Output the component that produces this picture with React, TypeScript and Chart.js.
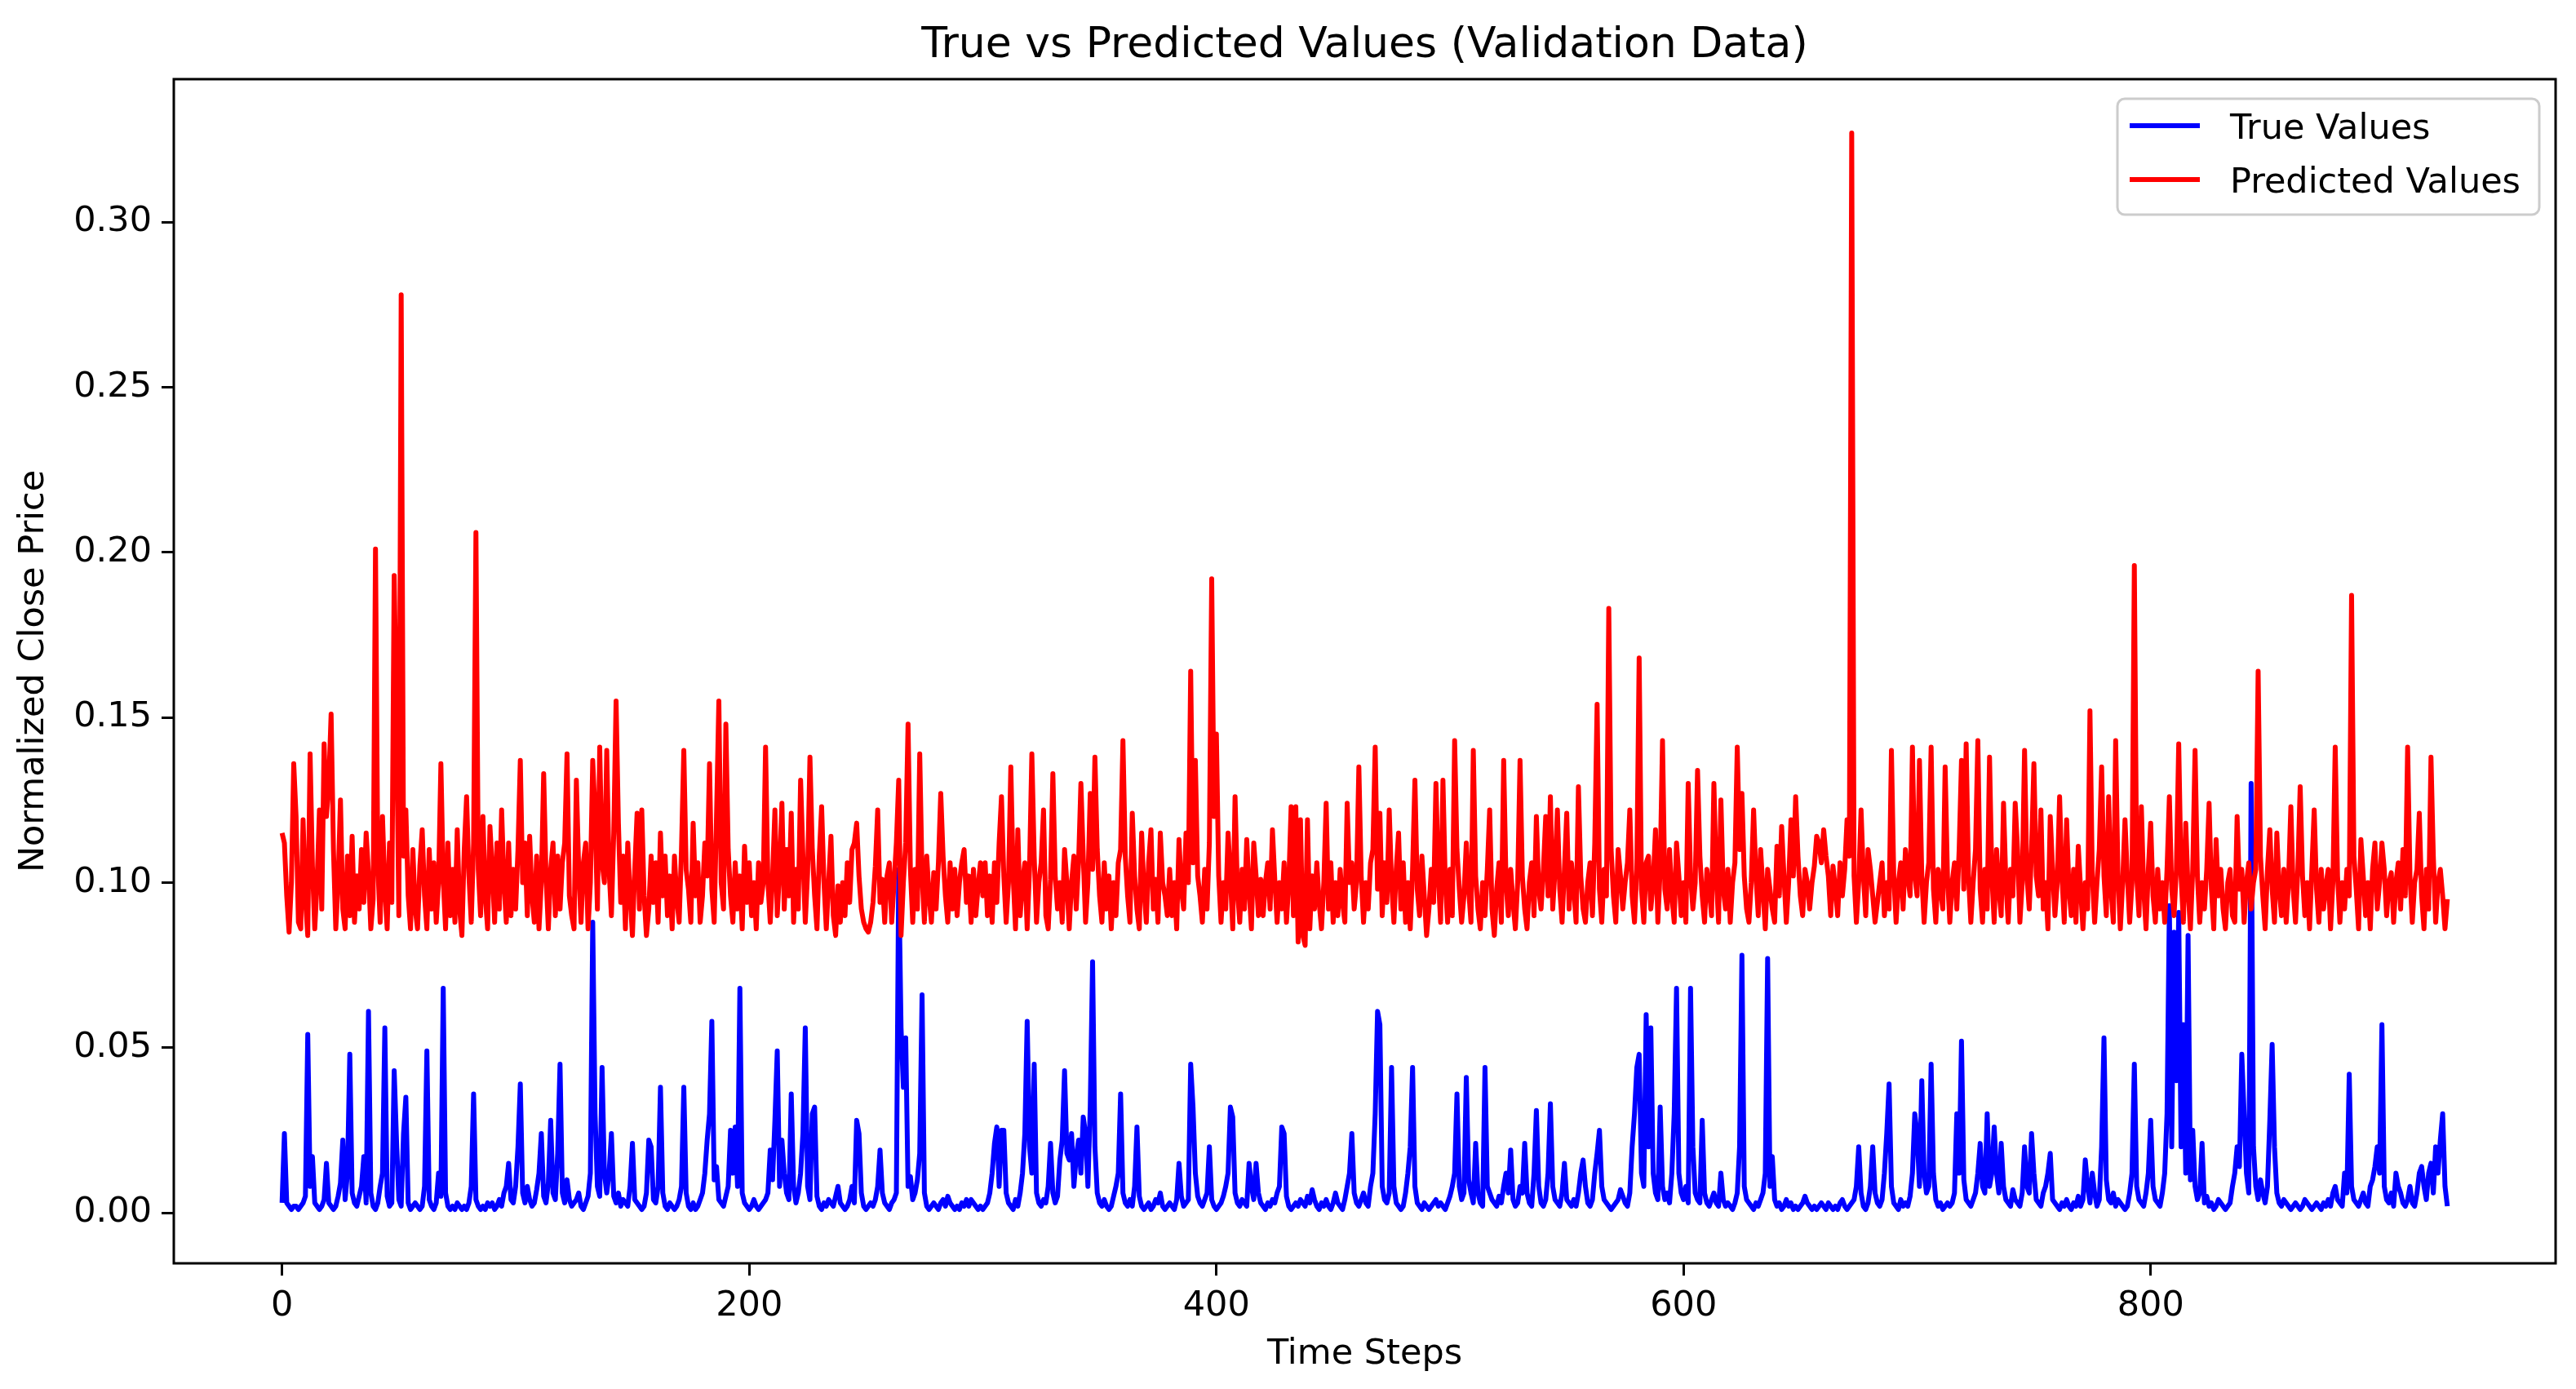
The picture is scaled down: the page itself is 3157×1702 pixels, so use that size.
import { useEffect, useRef } from "react";
import { Chart, registerables } from "chart.js";

Chart.register(...registerables);

const W = 3157;
const H = 1702;
const FONT = "DejaVu Sans";

const chartTitle = "True vs Predicted Values (Validation Data)";
const xAxisTitle = "Time Steps";
const yAxisTitle = "Normalized Close Price";
const seriesNames = ["True Values", "Predicted Values"];
const xTickValues = [0, 200, 400, 600, 800];
const yTickValues = [0, 0.05, 0.1, 0.15, 0.2, 0.25, 0.3];

// values in thousandths of the normalized close price, one entry per time step
const trueValues = [
  3,24,3,2,1,2,2,1,2,3,5,54,8,17,3,2,1,2,4,15,
  3,2,1,2,5,9,22,4,12,48,6,3,2,5,8,17,3,61,6,2,
  1,3,8,12,56,5,2,3,43,22,4,2,24,35,3,1,2,3,2,1,
  2,8,49,4,2,1,3,12,5,68,6,2,1,2,1,3,2,1,2,1,
  3,8,36,4,2,1,2,1,3,2,3,1,2,4,2,6,8,15,4,3,
  8,20,39,6,3,8,4,2,3,7,12,24,5,3,9,28,6,4,18,45,
  6,3,10,4,2,3,4,6,2,1,3,5,12,88,30,8,5,44,12,6,
  12,24,5,3,6,2,4,3,2,8,21,4,3,2,1,2,6,22,20,4,
  3,8,38,6,2,1,3,2,1,2,4,8,38,6,2,1,3,1,2,4,
  6,12,22,30,58,10,14,4,3,2,5,8,25,12,26,8,68,6,3,2,
  1,2,4,2,1,2,3,4,6,19,10,28,49,8,22,12,6,4,36,8,
  3,6,12,24,56,8,4,30,32,5,2,1,3,2,4,3,2,5,8,3,
  2,1,2,4,8,3,28,24,6,2,1,2,3,2,4,8,19,6,3,2,
  1,3,4,6,104,56,38,53,8,11,4,6,10,18,66,6,2,1,2,3,
  2,1,3,4,2,5,3,2,1,2,1,3,2,4,2,4,3,2,1,2,
  1,2,3,6,12,21,26,8,25,25,6,3,2,1,4,2,6,12,24,58,
  20,12,45,6,3,2,4,3,8,21,6,3,5,16,22,43,18,16,24,8,
  17,22,12,29,24,8,32,76,20,6,3,2,4,2,1,2,5,8,12,36,
  6,3,2,4,2,8,26,5,2,1,2,3,1,2,4,3,6,2,1,2,
  3,2,1,4,15,5,2,3,4,45,32,12,5,3,2,4,6,20,4,2,
  1,2,3,5,8,12,32,29,6,3,2,4,3,2,15,8,4,15,6,3,
  2,1,3,2,4,3,6,8,26,24,5,2,1,2,3,2,4,3,2,5,
  3,7,4,2,1,3,2,4,2,1,3,6,3,2,1,4,8,12,24,6,
  3,2,4,6,3,2,8,12,30,61,57,8,4,3,6,44,8,3,2,1,
  2,6,12,20,44,8,3,2,1,3,2,1,2,3,4,2,3,2,1,3,
  5,8,12,36,8,4,6,41,10,6,3,21,6,3,2,44,8,6,4,3,
  2,5,3,8,12,6,19,4,2,3,8,6,21,6,3,2,12,31,8,3,
  2,4,12,33,8,4,3,2,6,15,4,3,2,4,2,6,12,16,8,3,
  2,4,12,18,25,8,4,3,2,1,2,3,4,7,5,3,2,6,20,30,
  44,48,12,8,60,20,56,12,6,4,32,8,4,6,3,12,30,68,12,6,
  4,8,3,68,20,6,4,3,28,6,3,2,4,6,3,2,12,4,2,3,
  2,1,3,6,20,78,8,4,3,2,1,3,2,4,6,12,77,8,17,4,
  2,3,1,2,4,2,3,1,2,1,2,3,5,3,2,1,2,1,2,3,
  2,1,3,2,1,2,1,3,4,2,1,2,3,4,8,20,6,2,1,3,
  8,20,6,3,2,4,12,24,39,8,3,2,1,4,2,3,2,5,12,30,
  24,8,40,12,6,8,45,12,4,2,3,1,2,3,2,3,6,30,12,52,
  10,4,3,2,4,6,12,21,8,6,30,8,12,26,12,6,21,8,4,3,
  2,7,4,3,2,6,20,8,6,24,12,4,3,2,6,8,12,18,4,3,
  2,1,3,2,4,2,1,3,2,5,2,4,16,8,3,12,6,2,4,20,
  53,10,4,3,6,2,4,3,2,1,2,6,12,45,8,4,3,2,6,12,
  28,8,4,3,2,6,12,30,93,20,85,40,91,20,57,12,84,10,25,8,
  4,6,21,3,5,2,3,1,2,4,3,2,1,2,3,8,12,20,14,48,
  30,12,6,130,20,8,4,10,6,3,8,28,51,20,6,3,2,4,3,2,
  1,2,3,2,1,2,4,3,2,1,2,3,2,1,3,2,4,2,6,8,
  4,3,2,12,6,42,8,4,3,2,4,6,3,2,8,10,14,20,12,57,
  8,4,3,6,2,12,8,6,3,2,4,8,3,2,6,12,14,8,4,12,
  15,6,20,12,22,30,8,2,
];

const predictedValues = [
  115,112,96,85,100,136,120,88,86,119,95,84,139,105,86,100,122,92,142,120,
  130,151,110,86,100,125,92,86,108,90,114,88,102,92,110,94,115,103,86,95,
  201,105,88,120,98,86,112,94,193,150,90,278,108,122,96,86,110,92,86,105,
  116,96,86,110,92,106,88,100,136,101,86,112,90,104,88,116,92,84,110,126,
  102,88,112,206,104,90,120,96,86,117,104,88,112,92,122,100,88,112,90,104,
  92,110,137,100,112,90,114,96,88,108,86,100,133,102,86,104,112,90,108,92,
  106,112,139,96,90,86,131,104,88,106,112,86,100,137,121,92,141,106,100,140,
  104,90,115,155,118,94,108,86,112,96,84,104,121,92,122,96,84,92,108,94,
  106,88,115,96,108,90,102,86,108,95,88,110,140,104,98,88,118,96,106,88,
  96,112,102,136,98,88,120,155,100,92,148,110,96,88,106,92,102,86,111,94,
  106,90,100,86,106,94,100,141,100,88,102,122,90,104,124,92,110,96,121,88,
  104,92,131,108,88,103,138,110,96,86,108,123,100,86,100,114,90,84,99,88,
  100,90,106,94,110,112,118,102,92,88,86,85,88,94,105,122,94,101,88,102,
  106,88,100,112,131,84,100,112,148,104,88,104,92,139,102,88,108,96,88,103,
  92,106,127,108,96,88,106,92,104,90,100,106,110,94,102,88,104,90,99,106,
  96,106,90,102,88,106,94,112,126,102,88,100,135,102,86,116,90,100,106,86,
  104,139,108,88,100,106,122,90,86,101,133,102,92,100,88,110,100,86,100,108,
  92,106,130,108,88,100,127,104,138,110,96,88,106,92,102,86,100,90,106,110,
  143,108,96,88,121,102,92,86,115,98,88,106,116,92,101,88,115,100,96,90,
  104,90,100,86,113,98,92,115,100,164,106,137,102,96,88,104,92,112,192,120,
  145,102,88,100,92,115,102,86,126,98,88,104,92,113,98,86,112,102,90,101,
  90,100,106,92,116,101,88,100,92,106,88,100,123,90,123,82,119,84,81,119,
  86,102,92,106,94,86,100,124,92,106,88,100,90,104,94,88,124,100,106,92,
  100,135,102,88,100,92,106,110,141,98,121,90,106,94,122,100,88,104,115,92,
  106,88,100,86,104,131,98,90,108,96,84,92,104,94,130,102,88,131,100,88,
  104,90,143,110,98,88,96,112,98,88,140,102,92,86,100,90,104,122,92,84,
  98,106,88,137,100,90,104,94,86,100,137,102,92,86,100,106,90,120,98,92,
  104,120,96,126,92,104,122,98,88,104,121,92,106,98,88,129,102,92,88,100,
  106,90,112,154,98,88,104,96,183,110,96,88,110,102,92,100,106,122,96,88,
  104,168,98,88,106,108,92,100,116,88,104,143,98,92,110,96,88,112,102,90,
  100,88,130,102,92,100,134,108,96,88,104,98,90,130,102,88,125,98,92,104,
  88,100,106,141,110,127,102,92,88,100,122,102,90,110,98,86,104,98,92,88,
  111,96,117,102,88,100,119,102,126,108,96,90,104,100,92,100,105,114,112,106,
  116,108,102,90,105,98,90,106,96,104,119,108,327,102,88,100,122,102,90,110,
  104,96,88,94,100,106,90,100,92,140,102,88,100,106,92,110,102,96,141,102,
  96,137,102,88,100,106,141,98,88,104,98,92,135,102,88,100,106,92,110,137,
  98,142,102,88,100,110,143,98,88,104,92,138,102,88,110,98,90,124,100,88,
  104,96,124,110,88,100,140,102,92,110,136,102,96,122,92,100,86,120,104,90,
  100,126,102,88,119,98,90,104,88,111,98,86,100,92,152,102,88,100,110,135,
  102,90,126,98,88,143,102,86,100,119,102,88,100,196,102,90,123,98,86,104,
  118,96,88,104,92,100,88,104,126,98,90,104,142,102,88,118,98,86,104,140,
  102,88,100,92,104,124,98,86,113,96,104,92,86,100,104,90,88,120,98,104,
  88,100,106,92,100,104,164,108,96,86,104,116,98,88,115,98,90,104,88,100,
  123,98,88,104,129,102,90,100,86,104,122,98,88,104,92,99,104,86,100,141,
  102,88,100,92,104,96,187,108,98,86,113,102,90,100,86,104,112,92,100,112,
  104,90,100,103,88,100,106,92,110,96,141,102,88,100,104,121,96,86,104,92,
  138,108,88,100,104,96,86,95,
];

const VALUE_UNIT = 1000;

export default function App() {
  const canvasRef = useRef<HTMLCanvasElement | null>(null);

  useEffect(() => {
    const canvas = canvasRef.current;
    if (!canvas) return;

    const toPoints = (arr: number[]) => arr.map((v, i) => ({ x: i, y: v / VALUE_UNIT }));
    const all = [...trueValues, ...predictedValues].map((v) => v / VALUE_UNIT);
    const lo = Math.min(...all);
    const hi = Math.max(...all);
    const yMargin = (hi - lo) * 0.05;
    const n = Math.max(trueValues.length, predictedValues.length);
    const xMargin = (n - 1) * 0.05;

    const decorPlugin = {
      id: "decor",
      afterDatasetsDraw(chart: any) {
        const { ctx, chartArea: a } = chart;
        ctx.save();
        ctx.strokeStyle = "#000";
        ctx.lineWidth = 3;
        ctx.strokeRect(a.left, a.top, a.right - a.left, a.bottom - a.top);
        ctx.restore();
      },
      afterDraw(chart: any) {
        const { ctx, chartArea: a } = chart;
        ctx.save();
        // title
        ctx.fillStyle = "#000";
        ctx.font = `52px "${FONT}"`;
        ctx.textAlign = "center";
        ctx.textBaseline = "alphabetic";
        ctx.fillText(chartTitle, (a.left + a.right) / 2, 70);

        // legend
        const bx = 2595, by = 121, bw = 517, bh = 142;
        ctx.beginPath();
        (ctx as any).roundRect(bx, by, bw, bh, 9);
        ctx.fillStyle = "rgba(255,255,255,0.8)";
        ctx.fill();
        ctx.strokeStyle = "#cccccc";
        ctx.lineWidth = 3;
        ctx.stroke();

        const colors = ["#0000ff", "#ff0000"];
        const lineYs = [154, 220];
        seriesNames.forEach((name, i) => {
          ctx.beginPath();
          ctx.strokeStyle = colors[i];
          ctx.lineWidth = 6;
          ctx.lineCap = "butt";
          ctx.moveTo(2610, lineYs[i]);
          ctx.lineTo(2696, lineYs[i]);
          ctx.stroke();
          ctx.fillStyle = "#000";
          ctx.font = `43px "${FONT}"`;
          ctx.textAlign = "left";
          ctx.textBaseline = "alphabetic";
          ctx.fillText(name, 2733, lineYs[i] + 16);
        });
        ctx.restore();
      },
    };

    const tickFont = { family: FONT, size: 43 };

    const chart = new Chart(canvas, {
      type: "line",
      data: {
        datasets: [
          {
            label: seriesNames[0],
            data: toPoints(trueValues),
            borderColor: "#0000ff",
            backgroundColor: "#0000ff",
            borderWidth: 6,
            pointRadius: 0,
            tension: 0,
            fill: false,
            borderJoinStyle: "round",
            order: 2,
          },
          {
            label: seriesNames[1],
            data: toPoints(predictedValues),
            borderColor: "#ff0000",
            backgroundColor: "#ff0000",
            borderWidth: 6,
            pointRadius: 0,
            tension: 0,
            fill: false,
            borderJoinStyle: "round",
            order: 1,
          },
        ],
      },
      options: {
        animation: false,
        responsive: false,
        devicePixelRatio: 1,
        events: [],
        layout: { padding: { top: 97, right: 25, bottom: 0, left: 0 } },
        plugins: {
          legend: { display: false },
          title: { display: false },
          tooltip: { enabled: false },
        },
        scales: {
          x: {
            type: "linear",
            min: -xMargin,
            max: n - 1 + xMargin,
            afterBuildTicks: (scale: any) => {
              scale.ticks = xTickValues.map((v) => ({ value: v }));
            },
            afterFit: (scale: any) => {
              scale.height = H - 1548;
            },
            ticks: {
              font: tickFont,
              color: "#000",
              padding: 12,
              maxRotation: 0,
              autoSkip: false,
              callback: (v: any) => String(v),
            },
            grid: {
              display: true,
              drawOnChartArea: false,
              drawTicks: true,
              tickLength: 15,
              tickWidth: 3,
              tickColor: "#000",
            },
            border: { display: false },
            title: {
              display: true,
              text: xAxisTitle,
              font: tickFont,
              color: "#000",
              padding: { top: 0, bottom: 16 },
            },
          },
          y: {
            type: "linear",
            min: lo - yMargin,
            max: hi + yMargin,
            afterBuildTicks: (scale: any) => {
              scale.ticks = yTickValues.map((v) => ({ value: v }));
            },
            afterFit: (scale: any) => {
              scale.width = 213;
            },
            ticks: {
              font: tickFont,
              color: "#000",
              padding: 12,
              autoSkip: false,
              callback: (v: any) => Number(v).toFixed(2),
            },
            grid: {
              display: true,
              drawOnChartArea: false,
              drawTicks: true,
              tickLength: 15,
              tickWidth: 3,
              tickColor: "#000",
            },
            border: { display: false },
            title: {
              display: true,
              text: yAxisTitle,
              font: tickFont,
              color: "#000",
              padding: { top: 16, bottom: 0 },
            },
          },
        },
      },
      plugins: [decorPlugin],
    } as any);

    return () => {
      chart.destroy();
    };
  }, []);

  return (
    <div
      style={{
        position: "fixed",
        left: 0,
        top: 0,
        width: W,
        height: H,
        background: "#ffffff",
      }}
    >
      <canvas
        ref={canvasRef}
        width={W}
        height={H}
        style={{ display: "block", width: W, height: H }}
      />
    </div>
  );
}
